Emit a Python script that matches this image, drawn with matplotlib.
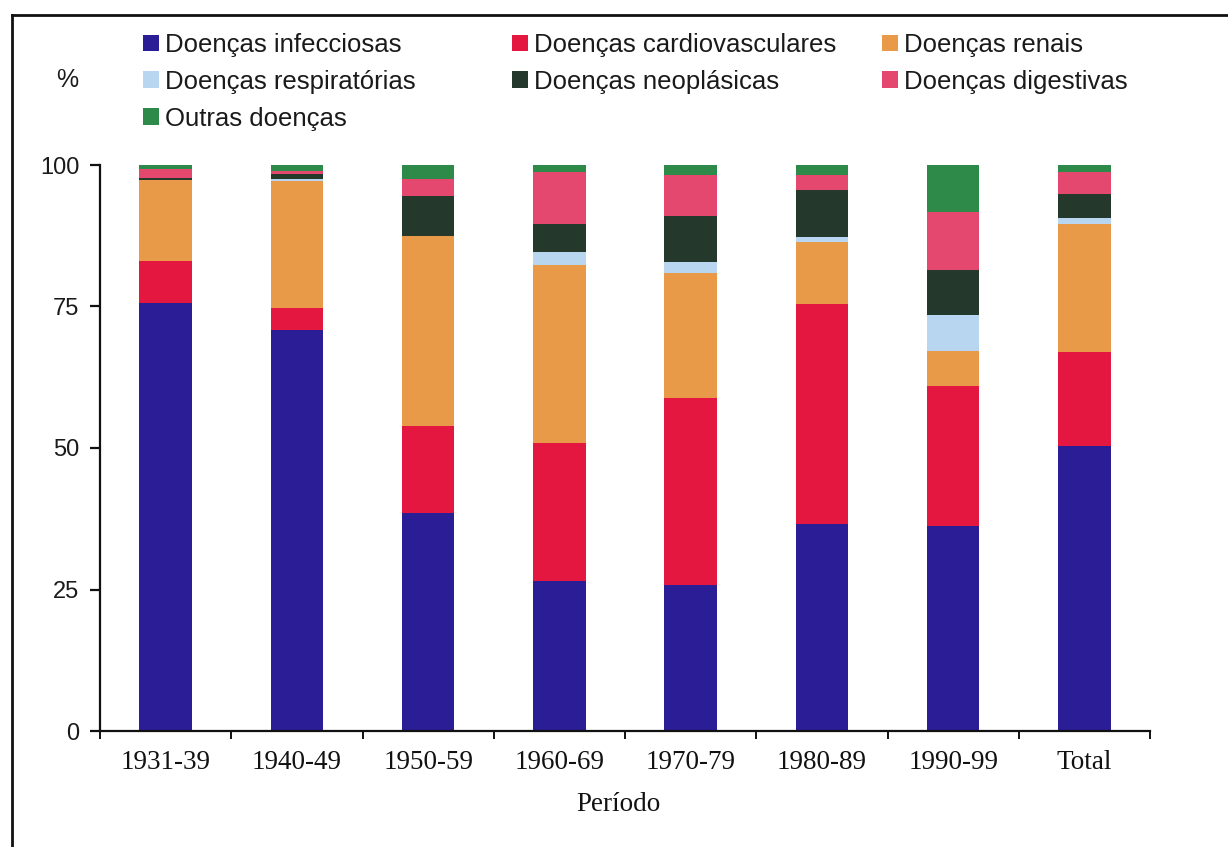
import matplotlib
matplotlib.use("Agg")
import matplotlib.pyplot as plt
from matplotlib.lines import Line2D
from matplotlib.patches import Patch
import numpy as np

periods = ["1931-39", "1940-49", "1950-59", "1960-69", "1970-79", "1980-89", "1990-99", "Total"]
infecciosas = [75.7, 70.8, 38.6, 26.5, 25.8, 36.6, 36.3, 50.3]
cardiovasculares = [7.3, 3.9, 15.2, 24.3, 33.1, 38.9, 24.6, 16.6]
renais = [14.3, 22.4, 33.6, 31.5, 22.1, 10.9, 6.2, 22.7]
respiratorias = [0.0, 0.4, 0.0, 2.4, 1.8, 0.8, 6.4, 1.1]
neoplasicas = [0.4, 0.9, 7.1, 4.9, 8.2, 8.4, 7.9, 4.2]
digestivas = [1.6, 0.6, 3.0, 9.1, 7.2, 2.6, 10.3, 3.8]
outras = [0.7, 1.0, 2.5, 1.3, 1.8, 1.8, 8.3, 1.3]

series_names = ["Doenças infecciosas", "Doenças cardiovasculares", "Doenças renais",
                "Doenças respiratórias", "Doenças neoplásicas", "Doenças digestivas",
                "Outras doenças"]
series_values = [infecciosas, cardiovasculares, renais, respiratorias, neoplasicas,
                 digestivas, outras]
colors = ["#2b1d96", "#e3173f", "#e89a48", "#b9d6f0", "#24382c", "#e5486f", "#2e8a48"]

yticks = [0, 25, 50, 75, 100]

sans = ["Liberation Sans", "DejaVu Sans"]
serif = ["Liberation Serif", "DejaVu Serif"]

fig = plt.figure(figsize=(12.28, 8.47), dpi=100)
ax = fig.add_axes([100/1228, 1-731/847, (1150-100)/1228, (731-165)/847])

x = np.arange(len(periods))
bottom = np.zeros(len(periods))
handles = []
for name, vals, c in zip(series_names, series_values, colors):
    vals = np.array(vals)
    ax.bar(x, vals, width=0.4, bottom=bottom, color=c, label=name, edgecolor="none")
    bottom += vals
    handles.append(Patch(facecolor=c, edgecolor="none", label=name))

ax.set_xlim(-0.5, len(periods) - 0.5)
ax.set_ylim(0, 100)
for s in ["top", "right"]:
    ax.spines[s].set_visible(False)
for s in ["left", "bottom"]:
    ax.spines[s].set_linewidth(1.6)
    ax.spines[s].set_color("#111111")
ax.spines["left"].set_bounds(0, 100)

ax.set_yticks(yticks)
ax.set_yticklabels([str(t) for t in yticks], family=sans, fontsize=17, color="#1a1a1a")
ax.tick_params(axis="y", direction="out", length=7, width=1.6, pad=8, color="#111111")

ax.set_xticks(x)
ax.set_xticklabels(periods, family=serif, fontsize=19.5, color="#111111")
ax.set_xticks(np.arange(len(periods) + 1) - 0.5, minor=True)
ax.tick_params(axis="x", which="major", length=0, pad=14)
ax.tick_params(axis="x", which="minor", direction="out", length=6, width=1.4, color="#111111")

fig.text(618/1228, 1-804/847, "Período", family=serif, fontsize=19.5, ha="center", va="center",
         color="#111111")
fig.text(67/1228, 1-80/847, "%", family=sans, fontsize=18, ha="center", va="center",
         color="#1a1a1a")

# legend: three columns placed individually
cols = [[0, 3, 6], [1, 4], [2, 5]]
col_x = [143/1228, 512/1228, 882/1228]
for ci, idxs in enumerate(cols):
    leg = fig.legend(handles=[handles[i] for i in idxs], loc="upper left",
                     bbox_to_anchor=(col_x[ci], 1-33/847), ncol=1, frameon=False,
                     prop={"family": sans, "size": 18.5}, handlelength=0.62, handleheight=0.62,
                     handletextpad=0.22, labelspacing=0.5, borderpad=0, borderaxespad=0)
    for t in leg.get_texts():
        t.set_color("#1a1a1a")

# figure border (partially visible)
fig.add_artist(Line2D([12/1228, 1.0], [1-15/847, 1-15/847], color="#111111", lw=2,
                      transform=fig.transFigure))
fig.add_artist(Line2D([12/1228, 12/1228], [0.0, 1-15/847], color="#111111", lw=2,
                      transform=fig.transFigure))

fig.savefig("out.png", dpi=100, facecolor="white")
